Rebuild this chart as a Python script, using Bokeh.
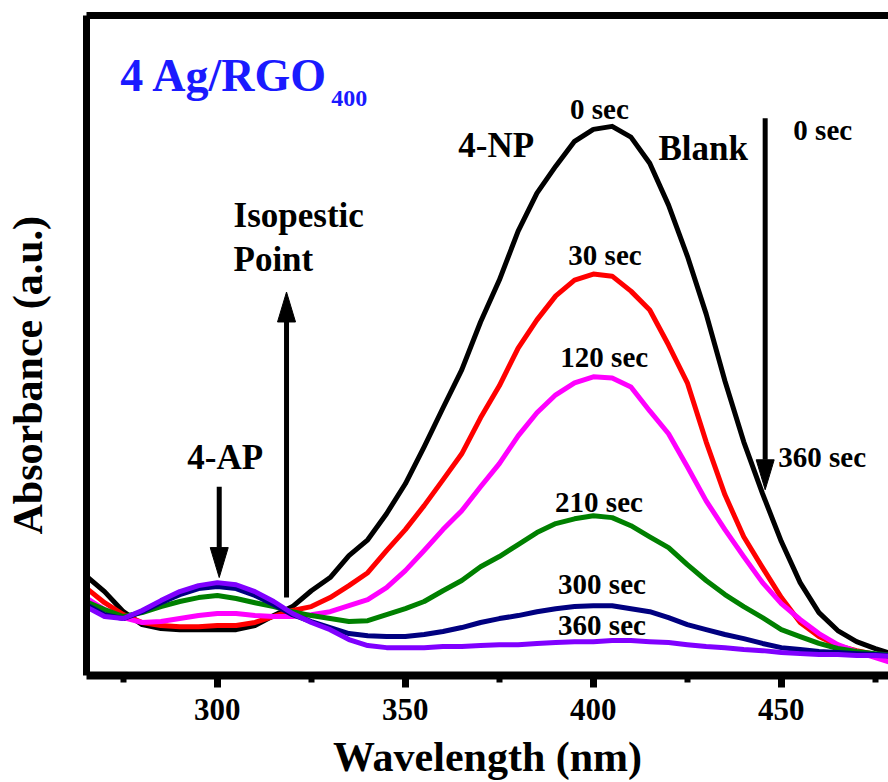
import math

from bokeh.embed import file_html
from bokeh.models import FixedTicker, Label, LinearAxis, Range1d, Title
from bokeh.plotting import figure
from bokeh.resources import INLINE

# UV-vis spectra of 4-nitrophenol reduction over 4 Ag/RGO400
wavelength = [265, 270, 275, 280, 285, 290, 295, 300, 305, 310, 315, 320,
              325, 330, 335, 340, 345, 350, 355, 360, 365, 370, 375, 380,
              385, 390, 395, 400, 405, 410, 415, 420, 425, 430, 435, 440,
              445, 450, 455, 460, 465, 470, 475, 480]

abs_0s = [0.333, 0.280, 0.213, 0.170, 0.157, 0.153, 0.153, 0.153, 0.153, 0.167,
          0.200, 0.230, 0.283, 0.327, 0.400, 0.453, 0.540, 0.640, 0.763, 0.893,
          1.020, 1.180, 1.320, 1.483, 1.610, 1.700, 1.783, 1.823, 1.833, 1.797,
          1.710, 1.570, 1.400, 1.207, 0.983, 0.780, 0.607, 0.447, 0.310, 0.210,
          0.150, 0.113, 0.090, 0.070]
abs_30s = [0.293, 0.243, 0.203, 0.177, 0.167, 0.163, 0.163, 0.167, 0.167, 0.177,
           0.197, 0.217, 0.230, 0.260, 0.300, 0.343, 0.417, 0.487, 0.567, 0.653,
           0.740, 0.860, 0.967, 1.093, 1.187, 1.267, 1.320, 1.340, 1.333, 1.283,
           1.220, 1.103, 0.977, 0.780, 0.603, 0.463, 0.360, 0.260, 0.177, 0.130,
           0.100, 0.083, 0.070, 0.060]
abs_120s = [0.260, 0.220, 0.193, 0.177, 0.180, 0.190, 0.200, 0.207, 0.207, 0.200,
            0.197, 0.197, 0.203, 0.213, 0.233, 0.253, 0.293, 0.350, 0.417, 0.487,
            0.550, 0.630, 0.707, 0.800, 0.877, 0.937, 0.977, 0.997, 0.993, 0.963,
            0.883, 0.807, 0.697, 0.583, 0.487, 0.397, 0.310, 0.240, 0.187, 0.140,
            0.103, 0.080, 0.060, 0.040]
abs_210s = [0.247, 0.220, 0.197, 0.210, 0.230, 0.247, 0.260, 0.267, 0.257, 0.243,
            0.230, 0.213, 0.200, 0.190, 0.180, 0.183, 0.203, 0.223, 0.247, 0.283,
            0.317, 0.363, 0.397, 0.437, 0.477, 0.507, 0.523, 0.533, 0.527, 0.500,
            0.463, 0.427, 0.370, 0.317, 0.270, 0.230, 0.193, 0.153, 0.130, 0.107,
            0.090, 0.080, 0.073, 0.067]
abs_300s = [0.237, 0.203, 0.190, 0.213, 0.243, 0.270, 0.290, 0.297, 0.290, 0.267,
            0.237, 0.203, 0.180, 0.160, 0.140, 0.133, 0.130, 0.130, 0.137, 0.147,
            0.160, 0.177, 0.190, 0.200, 0.213, 0.223, 0.230, 0.233, 0.233, 0.223,
            0.213, 0.193, 0.170, 0.153, 0.137, 0.123, 0.107, 0.093, 0.087, 0.080,
            0.077, 0.073, 0.070, 0.067]
abs_360s = [0.230, 0.197, 0.190, 0.217, 0.250, 0.280, 0.300, 0.310, 0.303, 0.280,
            0.247, 0.207, 0.177, 0.153, 0.120, 0.100, 0.093, 0.093, 0.093, 0.097,
            0.097, 0.100, 0.103, 0.103, 0.107, 0.110, 0.113, 0.113, 0.117, 0.117,
            0.113, 0.110, 0.103, 0.097, 0.093, 0.087, 0.083, 0.077, 0.073, 0.070,
            0.070, 0.067, 0.067, 0.063]

time_labels = ["0 sec", "30 sec", "120 sec", "210 sec", "300 sec", "360 sec"]
series = [abs_0s, abs_30s, abs_120s, abs_210s, abs_300s, abs_360s]
colors = ["#000000", "#ff0000", "#ff00ff", "#008000", "#000080", "#8000ff"]

major_ticks = [300, 350, 400, 450]
minor_ticks = [275, 325, 375, 425, 475]

FONT = "Liberation Serif"
W, H = 888, 782
LEFT, TOP, BOTTOM = 86, 15, 106
X0, X1 = 265.2, 478.5
Y0, Y1 = 0.0, 2.203
PX_PER_NM = (W - LEFT) / (X1 - X0)
PX_PER_ABS = (H - TOP - BOTTOM) / (Y1 - Y0)

p = figure(width=W, height=H, output_backend="svg", toolbar_location=None,
           x_range=Range1d(X0, X1), y_range=Range1d(Y0, Y1))
p.min_border_left = LEFT
p.min_border_right = 0
p.min_border_top = TOP
p.min_border_bottom = BOTTOM
p.outline_line_color = None
p.grid.visible = False
p.background_fill_color = "white"
p.border_fill_color = "white"

xa = p.xaxis[0]
xa.ticker = FixedTicker(ticks=major_ticks, minor_ticks=minor_ticks)
xa.axis_line_width = 8
xa.major_tick_line_width = 7
xa.major_tick_in = 0
xa.major_tick_out = 12
xa.minor_tick_line_width = 6
xa.minor_tick_in = 0
xa.minor_tick_out = 7
xa.major_label_text_font = FONT
xa.major_label_text_font_size = "31px"
xa.major_label_text_font_style = "bold"
xa.major_label_text_color = "black"
xa.major_label_standoff = 11
xa.axis_label = "Wavelength (nm)"
xa.axis_label_text_font = FONT
xa.axis_label_text_font_size = "42px"
xa.axis_label_text_font_style = "bold"
xa.axis_label_text_color = "black"
xa.axis_label_standoff = 11

# plain left spine: one hidden, unlabelled tick whose length leaves room
# before the title
ya = p.yaxis[0]
ya.ticker = FixedTicker(ticks=[1.0], minor_ticks=[])
ya.axis_line_width = 7
ya.major_label_overrides = {1.0: ""}
ya.major_label_text_color = None
ya.major_label_standoff = 0
ya.major_tick_line_color = None
ya.major_tick_in = 0
ya.major_tick_out = 36
ya.minor_tick_out = 0

top_axis = LinearAxis(ticker=FixedTicker(ticks=[]), axis_line_width=7,
                      major_tick_out=0, minor_tick_out=0)
p.add_layout(top_axis, "above")

# y axis title, anchored from the bottom of the frame
p.add_layout(Title(text="Absorbance (a.u.)", align="left", offset=141,
                   standoff=0, text_font=FONT, text_font_size="42px",
                   text_font_style="bold", text_color="black"), "left")

for vals, col in zip(series, colors):
    p.line(wavelength, vals, line_color=col, line_width=5, line_join="round")


def add_text(x, y, text, size_px, align="left", color="black"):
    # y is the text baseline; lift the anchor to sit the glyphs on it
    lift = 0.36 * size_px / PX_PER_ABS
    p.add_layout(Label(x=x, y=y + lift, text=text, text_font=FONT,
                       text_font_size=f"{size_px}px", text_font_style="bold",
                       text_color=color, text_align=align,
                       text_baseline="alphabetic"))


def vertical_arrow(x, y_from, y_tip):
    sign = 1 if y_tip > y_from else -1
    head_len = 30 / PX_PER_ABS
    half_w = 9 / PX_PER_NM
    base = y_tip - sign * head_len
    p.line([x, x], [y_from, base], line_color="black", line_width=5)
    p.patch([x - half_w, x, x + half_w], [base, y_tip, base],
            fill_color="black", line_color="black", line_width=1)


# sample name
add_text(274.2, 1.947, "4 Ag/RGO", 46, color="#1a1aff")
add_text(330.3, 1.897, "400", 24, color="#1a1aff")

# time labels above each spectrum
add_text(401.6, 1.857, time_labels[0], 29, align="center")
add_text(403.1, 1.370, time_labels[1], 29, align="center")
add_text(402.9, 1.027, time_labels[2], 29, align="center")
add_text(401.5, 0.543, time_labels[3], 29, align="center")
add_text(402.3, 0.270, time_labels[4], 29, align="center")
add_text(402.3, 0.133, time_labels[5], 29, align="center")

add_text(364.1, 1.727, "4-NP", 35)
add_text(417.3, 1.717, "Blank", 35)
add_text(453.2, 1.787, "0 sec", 29)
add_text(449.2, 0.693, "360 sec", 29)
add_text(304.3, 1.493, "Isopestic", 35)
add_text(304.3, 1.347, "Point", 35)
add_text(292.0, 0.687, "4-AP", 35)

vertical_arrow(445.7, 1.86, 0.62)
vertical_arrow(318.4, 0.26, 1.28)
vertical_arrow(300.5, 0.63, 0.327)

open("out.html", "w").write(file_html(p, INLINE))
